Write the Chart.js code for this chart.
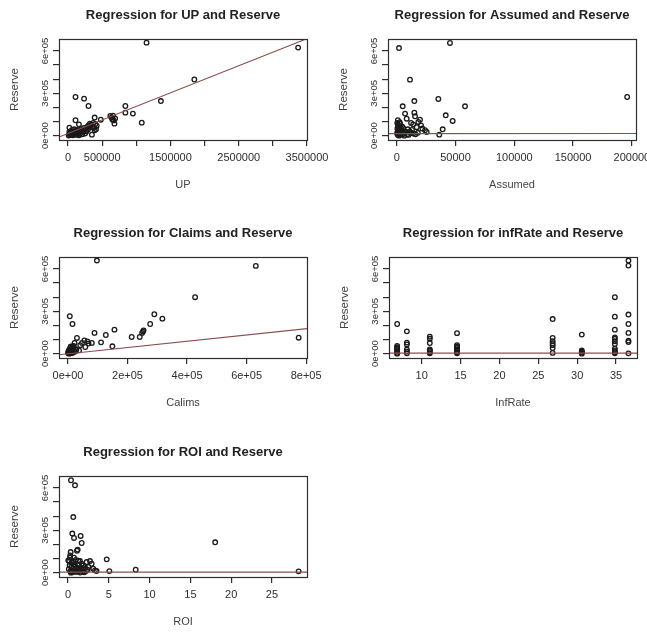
<!DOCTYPE html>
<html>
<head>
<meta charset="utf-8">
<script src="https://cdn.jsdelivr.net/npm/chart.js@4.4.0/dist/chart.umd.min.js"></script>
<style>
  html, body { margin: 0; padding: 0; background: #fff; width: 647px; height: 632px; overflow: hidden; position: relative; }
  canvas { position: absolute; filter: blur(0.35px); }
</style>
</head>
<body>
<canvas id="upChart" width="335" height="210" style="left:0px;top:0px"></canvas>
<canvas id="assumedChart" width="335" height="210" style="left:329px;top:0px"></canvas>
<canvas id="claimsChart" width="335" height="210" style="left:0px;top:218px"></canvas>
<canvas id="infRateChart" width="335" height="210" style="left:330px;top:218px"></canvas>
<canvas id="roiChart" width="335" height="210" style="left:0px;top:437px"></canvas>
<script>
// shared y axis (Reserve)
const reserveRange = [-31000, 685000];
const reserveTicks = [0, 100000, 200000, 300000, 400000, 500000, 600000];
const reserveText = ['0e+00', '', '', '3e+05', '', '', '6e+05'];

// UP vs Reserve
const upX = [1150000, 3370000, 1850000, 1360000, 110000, 235000, 300000, 840000, 840000, 950000,
  1080000, 390000, 480000, 620000, 660000, 640000, 690000, 670000, 680000, 650000,
  110000, 160000, 20000, 390000, 350000, 320000, 340000, 300000, 330000, 280000,
  310000, 260000, 360000, 290000, 240000, 220000, 200000, 180000, 150000, 120000,
  100000, 80000, 50000, 30000, 20000, 40000, 60000, 90000, 130000, 70000,
  120000, 170000, 210000, 250000, 140000, 100000, 190000, 230000, 50000, 10000,
  160000, 270000, 20000, 370000, 400000, 420000, 380000, 410000, 60000, 90000,
  140000, 30000];
const upY = [659000, 624000, 398000, 245000, 274000, 262000, 210000, 210000, 163000, 156000,
  92000, 128000, 113000, 140000, 142000, 128000, 122000, 108000, 85000, 115000,
  109000, 80000, 57000, 38000, 7000, 85000, 78000, 72000, 68000, 62000,
  55000, 50000, 60000, 42000, 38000, 32000, 25000, 30000, 20000, 22000,
  15000, 10000, 8000, 5000, 12000, 30000, 40000, 45000, 35000, 2000,
  5000, 8000, 10000, 15000, 12000, 30000, 45000, 55000, 20000, 1000,
  2000, 30000, 28000, 90000, 82000, 70000, 55000, 45000, 18000, 25000,
  40000, 15000];
const upRange = [-132000, 3500000];
const upTicks = [0, 500000, 1000000, 1500000, 2000000, 2500000, 3000000, 3500000];
const upText = ['0', '500000', '', '1500000', '', '2500000', '', '3500000'];
const upFit = [-10000, 687000];

// Assumed vs Reserve
const assumedX = [1950, 45300, 11300, 15000, 35400, 5100, 58100, 41700, 47600, 196000,
  39100, 36200, 7100, 8500, 15000, 15600, 12200, 18400, 19800, 20700,
  21800, 24100, 25500, 17000, 14000, 500, 1000, 2000, 1500, 3000,
  4000, 2500, 1000, 5000, 6000, 7000, 8000, 9000, 10000, 11000,
  12000, 13000, 14000, 3500, 5500, 800, 2000, 16000, 18000, 6500,
  300, 4500, 9500, 1200, 2800, 1000, 2500, 1500, 3000, 600];
const assumedY = [621000, 657000, 397000, 245000, 260000, 208000, 208000, 144000, 104000, 274000,
  45000, 7000, 156000, 120000, 163000, 137000, 90000, 97000, 113000, 73000,
  50000, 38000, 26000, 60000, 80000, 90000, 80000, 60000, 40000, 30000,
  20000, 10000, 5000, 10000, 15000, 30000, 25000, 10000, 5000, 30000,
  20000, 40000, 15000, 50000, 55000, 30000, 0, 10000, 20000, 0,
  15000, 65000, 45000, 70000, 85000, 110000, 95000, 18000, 8000, 50000];
const assumedRange = [-7400, 203500];
const assumedTicks = [0, 50000, 100000, 150000, 200000];
const assumedText = ['0', '50000', '100000', '150000', '200000'];
const assumedFit = [14000, 15000];

// Claims vs Reserve
const claimsX = [97000, 631000, 427000, 290000, 317000, 276000, 6000, 15000, 156000, 127000,
  89000, 111000, 149000, 214000, 241000, 249000, 252000, 254000, 775000, 30000,
  55000, 65000, 47000, 69000, 80000, 58000, 41000, 22000, 16000, 12000,
  26000, 37000, 2000, 5000, 8000, 3000, 10000, 12000, 1000, 6000,
  15000, 4000, 7000, 9000, 11000, 14000, 18000, 20000, 13000, 17000,
  24000, 28000, 1500, 19000, 9500, 3500, 500, 7500];
const claimsY = [660000, 622000, 400000, 279000, 248000, 210000, 265000, 210000, 170000, 132000,
  147000, 80000, 52000, 118000, 118000, 147000, 156000, 165000, 113000, 111000,
  94000, 87000, 76000, 71000, 76000, 47000, 60000, 76000, 47000, 28000,
  28000, 23000, 5000, 10000, 20000, 15000, 8000, 25000, 2000, 30000,
  12000, 0, 3000, 14000, 18000, 4000, 9000, 22000, 35000, 40000,
  15000, 30000, 8000, 55000, 50000, 26000, 12000, 42000];
const claimsRange = [-30300, 803000];
const claimsTicks = [0, 200000, 400000, 600000, 800000];
const claimsText = ['0e+00', '2e+05', '4e+05', '6e+05', '8e+05'];
const claimsFit = [-8000, 177000];

// infRate vs Reserve
const infRateX = [6.85, 6.85, 6.85, 6.85, 6.85, 6.85, 6.85, 6.85,
  8.1, 8.1, 8.1, 8.1, 8.1, 8.1,
  11.05, 11.05, 11.05, 11.05, 11.05, 11.05, 11.05,
  14.55, 14.55, 14.55, 14.55, 14.55, 14.55, 14.55, 14.55,
  26.85, 26.85, 26.85, 26.85, 26.85, 26.85, 26.85,
  30.6, 30.6, 30.6, 30.6, 30.6,
  34.85, 34.85, 34.85, 34.85, 34.85, 34.85, 34.85, 34.85, 34.85, 34.85, 34.85,
  36.6, 36.6, 36.6, 36.6, 36.6, 36.6, 36.6, 36.6];
const infRateY = [210000, 55000, 45000, 35000, 25000, 15000, 5000, 0,
  158000, 78000, 65000, 30000, 15000, 3000,
  120000, 105000, 75000, 30000, 20000, 10000, 2000,
  145000, 60000, 50000, 40000, 30000, 20000, 10000, 2000,
  245000, 112000, 88000, 72000, 60000, 40000, 5000,
  135000, 22000, 14000, 7000, 0,
  400000, 262000, 170000, 115000, 105000, 88000, 68000, 35000, 22000, 12000, 3000,
  660000, 624000, 277000, 210000, 147000, 92000, 82000, 2000];
const infRateRange = [5.8, 37.7];
const infRateTicks = [10, 15, 20, 25, 30, 35];
const infRateText = ['10', '15', '20', '25', '30', '35'];
const infRateFit = [3000, 3000];

// ROI vs Reserve
const roiX = [0.37, 0.86, 0.65, 0.53, 0.74, 1.55, 1.68, 1.19, 1.1, 0.33,
  0.27, 4.75, 5.07, 8.3, 18.04, 28.26, 3.5, 2.7, 2.9, 2.29,
  1.88, 2.49, 3.1, 3.31, 2.08, 1.47, 1.68, 1.27, 0.25, 0.04,
  0.65, 0.74, 0.2, 0.4, 0.6, 0.8, 1.0, 1.2, 1.4, 1.6,
  1.8, 2.0, 0.3, 0.5, 0.7, 0.9, 1.1, 1.3, 1.5, 2.2,
  2.4, 0.1, 1.9, 0.45, 0.95, 1.25, 0.15, 0.35, 0.75, 1.05];
const roiY = [655000, 619000, 394000, 277000, 246000, 260000, 210000, 163000, 155000, 146000,
  122000, 94000, 11000, 21000, 215000, 9000, 12000, 82000, 63000, 75000,
  51000, 40000, 28000, 16000, 40000, 82000, 63000, 28000, 106000, 87000,
  80000, 106000, 50000, 40000, 30000, 20000, 10000, 5000, 15000, 25000,
  8000, 3000, 10000, 2000, 60000, 45000, 35000, 55000, 1000, 12000,
  20000, 25000, 30000, 70000, 90000, 85000, 80000, 0, 5000, 22000];
const roiRange = [-1.1, 29.29];
const roiTicks = [0, 5, 10, 15, 20, 25];
const roiText = ['0', '5', '10', '15', '20', '25'];
const roiFit = [3000, 3000];

const FONT = "'Liberation Sans', Arial, sans-serif";
const INK = '#2e2e2e';

// R style box around the plot region
const boxPlugin = {
  id: 'box',
  afterDatasetsDraw(chart) {
    const a = chart.chartArea;
    const ctx = chart.ctx;
    ctx.save();
    ctx.strokeStyle = INK;
    ctx.lineWidth = 1.2;
    ctx.strokeRect(Math.round(a.left) + 0.5, Math.round(a.top) + 0.5,
      Math.round(a.right - a.left), Math.round(a.bottom - a.top));
    ctx.restore();
  }
};

function makePanel(id, title, xLabel, xs, ys, range, ticks, texts, fit) {
  const points = xs.map((x, i) => ({x: x, y: ys[i]}));
  new Chart(document.getElementById(id), {
    type: 'scatter',
    data: {
      datasets: [{
        type: 'line',
        data: [{x: range[0], y: fit[0]}, {x: range[1], y: fit[1]}],
        borderColor: '#8a4f4f',
        borderWidth: 1.2,
        pointRadius: 0,
        fill: false
      }, {
        data: points,
        pointStyle: 'circle',
        pointRadius: 2.3,
        pointBorderWidth: 1.3,
        pointBorderColor: '#1a1a1a',
        pointBackgroundColor: 'rgba(0,0,0,0)'
      }]
    },
    options: {
      responsive: false,
      animation: false,
      layout: { padding: { left: 0, top: 0, right: 28, bottom: 0 } },
      plugins: {
        legend: { display: false },
        tooltip: { enabled: false },
        title: {
          display: true,
          fullSize: false,
          text: title,
          color: '#222',
          font: { family: FONT, size: 13, weight: 'bold' },
          padding: { top: 7.2, bottom: 16.2 }
        }
      },
      scales: {
        x: {
          type: 'linear',
          min: range[0],
          max: range[1],
          afterBuildTicks: s => { s.ticks = ticks.map(v => ({value: v})); },
          afterFit: s => { s.height = 70; s.paddingLeft = 0; s.paddingRight = 0; },
          ticks: {
            autoSkip: false, maxRotation: 0, padding: 5.7, color: INK,
            font: { family: FONT, size: 11 },
            callback: (v, i) => texts[i]
          },
          grid: { drawOnChartArea: false, drawTicks: true, tickLength: 6, color: INK, lineWidth: 1.2 },
          border: { display: false },
          title: {
            display: true, text: xLabel, color: '#444',
            font: { family: FONT, size: 11 },
            padding: { top: 0, bottom: 18.4 }
          }
        },
        y: {
          type: 'linear',
          min: reserveRange[0],
          max: reserveRange[1],
          afterBuildTicks: s => { s.ticks = reserveTicks.map(v => ({value: v})); },
          afterFit: s => { s.width = 59; s.paddingTop = 0; s.paddingBottom = 0; },
          ticks: {
            autoSkip: false, minRotation: 90, maxRotation: 90, crossAlign: 'center',
            padding: -6, color: INK,
            font: { family: FONT, size: 9.5 },
            callback: (v, i) => reserveText[i]
          },
          grid: { drawOnChartArea: false, drawTicks: true, tickLength: 6, color: INK, lineWidth: 1.2 },
          border: { display: false },
          title: {
            display: true, text: 'Reserve', color: '#444',
            font: { family: FONT, size: 11.5 },
            padding: { top: 8.2, bottom: 0 }
          }
        }
      }
    },
    plugins: [boxPlugin]
  });
}

makePanel('upChart', 'Regression for UP and Reserve', 'UP', upX, upY, upRange, upTicks, upText, upFit);
makePanel('assumedChart', 'Regression for Assumed and Reserve', 'Assumed', assumedX, assumedY, assumedRange, assumedTicks, assumedText, assumedFit);
makePanel('claimsChart', 'Regression for Claims and Reserve', 'Calims', claimsX, claimsY, claimsRange, claimsTicks, claimsText, claimsFit);
makePanel('infRateChart', 'Regression for infRate and Reserve', 'InfRate', infRateX, infRateY, infRateRange, infRateTicks, infRateText, infRateFit);
makePanel('roiChart', 'Regression for ROI and Reserve', 'ROI', roiX, roiY, roiRange, roiTicks, roiText, roiFit);
</script>
</body>
</html>
